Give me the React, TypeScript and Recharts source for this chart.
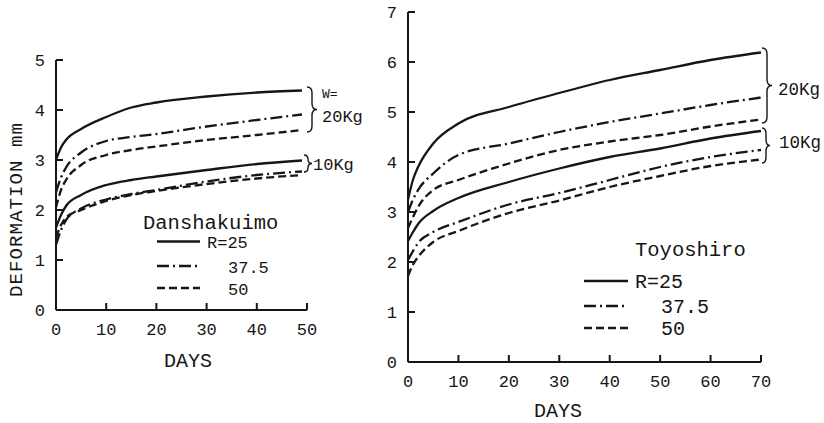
import { LineChart, Line, XAxis, YAxis } from "recharts";

// Danshakuimo (left panel)
const LEFT_DAYS = [0, 1, 2, 5, 10, 15, 20, 30, 40, 49];
const LEFT_R25_20 = [3.0, 3.25, 3.4, 3.62, 3.86, 4.05, 4.15, 4.27, 4.35, 4.39];
const LEFT_R375_20 = [2.35, 2.65, 2.85, 3.15, 3.38, 3.46, 3.52, 3.67, 3.8, 3.91];
const LEFT_R50_20 = [2.05, 2.4, 2.6, 2.9, 3.1, 3.2, 3.27, 3.4, 3.5, 3.6];
const LEFT_R25_10 = [1.65, 1.9, 2.08, 2.3, 2.5, 2.6, 2.67, 2.8, 2.92, 2.99];
const LEFT_R375_10 = [1.3, 1.6, 1.8, 2.03, 2.21, 2.32, 2.4, 2.57, 2.7, 2.77];
const LEFT_R50_10 = [1.45, 1.7, 1.85, 2.0, 2.18, 2.3, 2.38, 2.52, 2.63, 2.7];
const LEFT_X_TICKS = [0, 10, 20, 30, 40, 50];
const LEFT_Y_TICKS = [0, 1, 2, 3, 4, 5];

// Toyoshiro (right panel)
const RIGHT_DAYS = [0, 1, 2, 5, 10, 20, 30, 40, 50, 60, 70];
const RIGHT_R25_20 = [3.25, 3.65, 3.9, 4.37, 4.77, 5.1, 5.38, 5.64, 5.84, 6.04, 6.19];
const RIGHT_R375_20 = [3.0, 3.25, 3.44, 3.77, 4.14, 4.37, 4.6, 4.8, 4.97, 5.14, 5.29];
const RIGHT_R50_20 = [2.68, 2.9, 3.1, 3.44, 3.64, 3.97, 4.24, 4.41, 4.54, 4.71, 4.85];
const RIGHT_R25_10 = [2.42, 2.6, 2.76, 3.02, 3.28, 3.6, 3.87, 4.1, 4.27, 4.47, 4.62];
const RIGHT_R375_10 = [2.04, 2.22, 2.38, 2.6, 2.8, 3.15, 3.38, 3.64, 3.9, 4.1, 4.24];
const RIGHT_R50_10 = [1.72, 1.95, 2.1, 2.4, 2.62, 2.98, 3.23, 3.5, 3.72, 3.92, 4.05];
const RIGHT_X_TICKS = [0, 10, 20, 30, 40, 50, 60, 70];
const RIGHT_Y_TICKS = [0, 1, 2, 3, 4, 5, 6, 7];

const LEGEND_LABELS = ["R=25", "37.5", "50"];
const LEGEND_DASHES = [undefined, "12 4 2 4", "8 4"];

const INK = "#161616";
const MONO = "'Liberation Mono', 'DejaVu Sans Mono', monospace";

const leftData = LEFT_DAYS.map((day, i) => ({
  day,
  s20: LEFT_R25_20[i],
  dd20: LEFT_R375_20[i],
  d20: LEFT_R50_20[i],
  s10: LEFT_R25_10[i],
  dd10: LEFT_R375_10[i],
  d10: LEFT_R50_10[i],
}));

const rightData = RIGHT_DAYS.map((day, i) => ({
  day,
  s20: RIGHT_R25_20[i],
  dd20: RIGHT_R375_20[i],
  d20: RIGHT_R50_20[i],
  s10: RIGHT_R25_10[i],
  dd10: RIGHT_R375_10[i],
  d10: RIGHT_R50_10[i],
}));

const tickStyle = { fontSize: 17, fontFamily: MONO, fill: INK };
const tickLineStyle = { stroke: INK, strokeWidth: 2 };
const axisLineStyle = { stroke: INK, strokeWidth: 2 };

const seriesLines = () => [
  <Line key="s20" dataKey="s20" type="monotone" stroke={INK} strokeWidth={2.3} dot={false} isAnimationActive={false} />,
  <Line key="dd20" dataKey="dd20" type="monotone" stroke={INK} strokeWidth={2.3} strokeDasharray="12 4 2 4" dot={false} isAnimationActive={false} />,
  <Line key="d20" dataKey="d20" type="monotone" stroke={INK} strokeWidth={2.3} strokeDasharray="8 4" dot={false} isAnimationActive={false} />,
  <Line key="s10" dataKey="s10" type="monotone" stroke={INK} strokeWidth={2.3} dot={false} isAnimationActive={false} />,
  <Line key="dd10" dataKey="dd10" type="monotone" stroke={INK} strokeWidth={2.3} strokeDasharray="12 4 2 4" dot={false} isAnimationActive={false} />,
  <Line key="d10" dataKey="d10" type="monotone" stroke={INK} strokeWidth={2.3} strokeDasharray="8 4" dot={false} isAnimationActive={false} />,
];

const Brace = ({ x, y1, y2, w = 5 }: { x: number; y1: number; y2: number; w?: number }) => {
  const ym = (y1 + y2) / 2;
  const r = Math.min(6, (y2 - y1) / 4);
  const d = `M ${x} ${y1} Q ${x + w} ${y1} ${x + w} ${y1 + r} L ${x + w} ${ym - r} Q ${x + w} ${ym} ${x + 2 * w} ${ym} Q ${x + w} ${ym} ${x + w} ${ym + r} L ${x + w} ${y2 - r} Q ${x + w} ${y2} ${x} ${y2}`;
  return <path d={d} fill="none" stroke={INK} strokeWidth={1.4} />;
};

// legend block: title, then three sample lines with labels
const LegendBlock = (p: {
  title: string; tx: number; ty: number; tSize: number;
  lx1: number; lx2: number; rows: number[]; labelX: number[]; labelDy: number; lSize: number;
}) => (
  <g fontFamily={MONO} fill={INK}>
    <text x={p.tx} y={p.ty} fontSize={p.tSize}>{p.title}</text>
    {LEGEND_LABELS.map((lab, i) => (
      <g key={lab}>
        <line x1={p.lx1} y1={p.rows[i]} x2={p.lx2} y2={p.rows[i]} stroke={INK} strokeWidth={2.4} strokeDasharray={LEGEND_DASHES[i]} />
        <text x={p.labelX[i]} y={p.rows[i] + p.labelDy} fontSize={p.lSize}>{lab}</text>
      </g>
    ))}
  </g>
);

export default function App() {
  return (
    <div style={{ position: "absolute", left: 0, top: 0, width: 824, height: 423, background: "#fff", overflow: "hidden" }}>
      <div style={{ position: "absolute", left: 0, top: 0 }}>
        <LineChart width={370} height={423} data={leftData} margin={{ top: 60, right: 63, left: 16, bottom: 83 }}>
          <XAxis
            dataKey="day"
            type="number"
            domain={[0, 50]}
            ticks={LEFT_X_TICKS}
            tickSize={-7}
            tickMargin={20}
            height={30}
            tick={tickStyle}
            axisLine={axisLineStyle}
            tickLine={tickLineStyle}
          />
          <YAxis
            type="number"
            domain={[0, 5]}
            ticks={LEFT_Y_TICKS}
            tickSize={-7}
            tickMargin={18}
            width={40}
            tick={tickStyle}
            axisLine={axisLineStyle}
            tickLine={tickLineStyle}
          />
          {seriesLines()}
        </LineChart>
      </div>
      <div style={{ position: "absolute", left: 370, top: 0 }}>
        <LineChart width={454} height={423} data={rightData} margin={{ top: 12, right: 63, left: 8, bottom: 31 }}>
          <XAxis
            dataKey="day"
            type="number"
            domain={[0, 70]}
            ticks={RIGHT_X_TICKS}
            tickSize={-7}
            tickMargin={20}
            height={30}
            tick={tickStyle}
            axisLine={axisLineStyle}
            tickLine={tickLineStyle}
          />
          <YAxis
            type="number"
            domain={[0, 7]}
            ticks={RIGHT_Y_TICKS}
            tickSize={-7}
            tickMargin={18}
            width={30}
            tick={tickStyle}
            axisLine={axisLineStyle}
            tickLine={tickLineStyle}
          />
          {seriesLines()}
        </LineChart>
      </div>
      <svg width={824} height={423} style={{ position: "absolute", left: 0, top: 0, pointerEvents: "none" }}>
        <g fontFamily={MONO} fill={INK}>
          <text transform="translate(22 210) rotate(-90)" textAnchor="middle" fontSize={19} textLength={174}>
            DEFORMATION  mm
          </text>
          <text x={188} y={367} textAnchor="middle" fontSize={20}>DAYS</text>
          <text x={558} y={417} textAnchor="middle" fontSize={20}>DAYS</text>
          <text x={322} y={98} fontSize={13}>W=</text>
          <text x={322} y={122} fontSize={17}>20Kg</text>
          <text x={313} y={170} fontSize={17}>10Kg</text>
          <text x={778} y={95} fontSize={17.5}>20Kg</text>
          <text x={779} y={148} fontSize={17.5}>10Kg</text>
        </g>
        <LegendBlock
          title="Danshakuimo" tx={143} ty={229} tSize={20.5}
          lx1={157} lx2={200} rows={[241.5, 266, 288]} labelX={[207, 228, 228]} labelDy={6.5} lSize={17}
        />
        <LegendBlock
          title="Toyoshiro" tx={635} ty={256} tSize={20.5}
          lx1={584} lx2={628} rows={[281, 306, 328]} labelX={[635, 661, 661]} labelDy={7} lSize={20}
        />
        <Brace x={307} y1={87} y2={132} />
        <Brace x={304} y1={155} y2={172} w={4} />
        <Brace x={762} y1={48} y2={123} />
        <Brace x={762} y1={128} y2={163} w={4} />
      </svg>
    </div>
  );
}
